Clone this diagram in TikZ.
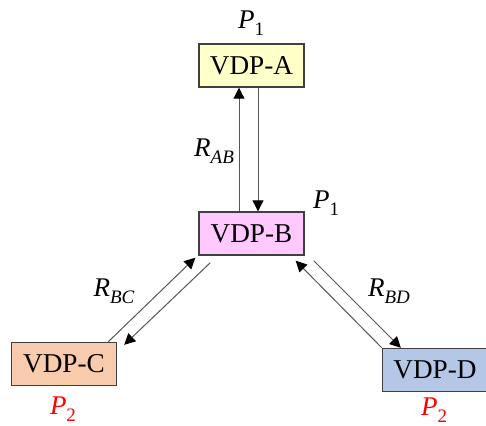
\documentclass[tikz,border=0pt]{standalone}
\usepackage{fontspec}
\setmainfont{Liberation Serif}
\usetikzlibrary{arrows.meta,calc}
\definecolor{fillA}{HTML}{FFFFC8}
\definecolor{fillB}{HTML}{FFC8FF}
\definecolor{fillC}{HTML}{F8CBAD}
\definecolor{fillD}{HTML}{B4C7E7}
\definecolor{edge}{HTML}{404040}
\definecolor{conn}{HTML}{555555}
\newcommand{\lblsub}[2]{\textit{#1}\raisebox{-0.26em}{\fontsize{9.5}{11}\selectfont #2}}
\tikzset{
  vdp/.style={draw=edge, line width=0.7pt, minimum width=52.5pt, minimum height=21.5pt, inner sep=0pt, font=\fontsize{13.6}{16}\selectfont},
  lab/.style={font=\fontsize{13.5}{16}\selectfont, inner sep=0pt},
  red lab/.style={lab, text=red},
  conn/.style={draw=conn, line width=0.5pt},
  tip/.style={-{Triangle[length=5.5pt,width=5.5pt,black]}}
}
\begin{document}
\begin{tikzpicture}[x=0.5pt,y=-0.5pt]
\useasboundingbox (0,0) rectangle (486,425);
\node[vdp, fill=fillA] (A) at (251.5,65.5) {VDP-A};
\node[vdp, fill=fillB] (B) at (251.5,233.5) {VDP-B};
\node[vdp, fill=fillC] (C) at (64,364) {VDP-C};
\node[vdp, fill=fillD] (D) at (435,370) {VDP-D};

\node[lab] (pA) at (251,23) {\lblsub{P}{1}};
\node[lab] (pB) at (326,203) {\lblsub{P}{1}};
\node[red lab] (pC) at (63,409) {\lblsub{P}{2}};
\node[red lab] (pD) at (434,410) {\lblsub{P}{2}};
\node[lab] (rAB) at (214,151) {\lblsub{R}{\textit{AB}}};
\node[lab] (rBC) at (114,291) {\lblsub{R}{\textit{BC}}};
\node[lab] (rBD) at (389,291) {\lblsub{R}{\textit{BD}}};

\draw[conn, tip] ($(B.north)+(-12.5,0)$) -- ($(A.south)+(-12.5,0)$);
\draw[conn, tip] ($(A.south)+(6.5,0)$) -- ($(B.north)+(6.5,0)$);

\draw[conn, tip] ($(C.north east)+(-9,0)$) -- ($(B.south west)+(-3,2)$);
\draw[conn, tip] ($(B.south west)+(12,7)$) -- ($(C.north east)+(7,3)$);

\draw[conn, tip] (D.north west) -- ($(B.south east)+(-9,5)$);
\draw[conn, tip] ($(B.south east)+(9,5)$) -- ($(D.north west)+(19,0)$);
\end{tikzpicture}
\end{document}
